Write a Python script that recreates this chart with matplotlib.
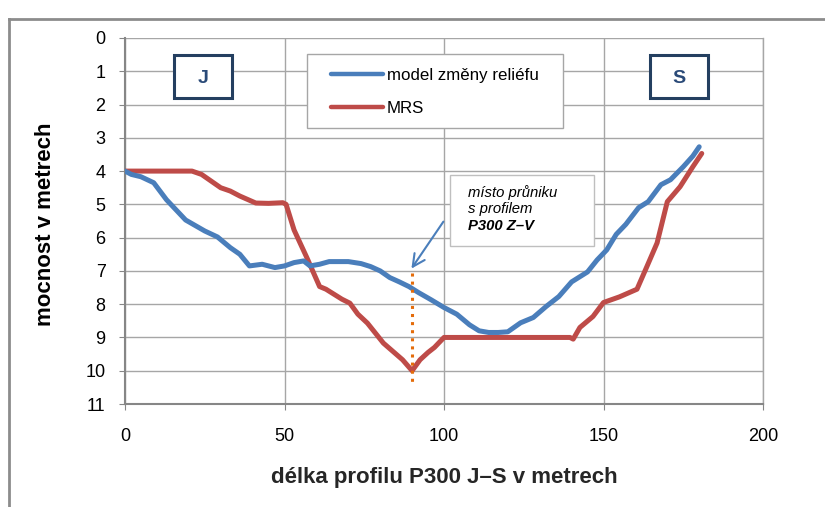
import matplotlib.pyplot as plt
from matplotlib.patches import Rectangle
from matplotlib.lines import Line2D

# data
blue_x = [0, 2, 5, 9, 13, 19, 25, 29, 33, 36, 39, 43, 47, 50, 53, 56, 58, 61, 64, 70,
          74, 77, 80, 83, 86, 89, 92, 96, 100, 104, 108, 111, 114, 117, 120, 124, 128,
          132, 136, 140, 145, 148, 151, 154, 157, 161, 164, 168, 171, 175, 178, 180]
blue_y = [4.0, 4.1, 4.17, 4.35, 4.86, 5.47, 5.8, 5.98, 6.3, 6.5, 6.85, 6.8, 6.9, 6.85,
          6.75, 6.7, 6.85, 6.8, 6.72, 6.72, 6.78, 6.87, 7.0, 7.2, 7.33, 7.47, 7.65, 7.87,
          8.1, 8.3, 8.62, 8.8, 8.85, 8.85, 8.83, 8.56, 8.4, 8.07, 7.77, 7.33, 7.03, 6.67,
          6.37, 5.9, 5.6, 5.1, 4.92, 4.41, 4.26, 3.87, 3.55, 3.27]

red_x = [0, 21, 24, 27, 30, 33, 36, 41, 45, 49.5, 50.5, 53, 57, 61, 63, 65, 68, 70.5,
         73, 76, 81, 87, 90, 92.5, 95, 97, 100, 101, 110, 120, 130, 139.5, 140.5, 142.6,
         146.7, 150, 155, 160.5, 163.6, 166.8, 170, 174, 178, 180.8]
red_y = [4.0, 4.0, 4.1, 4.3, 4.5, 4.6, 4.75, 4.96, 4.97, 4.95, 5.0, 5.77, 6.6, 7.47,
         7.55, 7.67, 7.85, 7.97, 8.3, 8.57, 9.17, 9.67, 10.0, 9.67, 9.45, 9.3, 9.0, 9.0,
         9.0, 9.0, 9.0, 9.0, 9.05, 8.7, 8.37, 7.95, 7.78, 7.55, 6.87, 6.16, 4.92, 4.47,
         3.87, 3.47]

blue_label = 'model změny reliéfu'
red_label = 'MRS'
cross_x = 90
x_ticks = [0, 50, 100, 150, 200]
y_ticks = list(range(0, 12))

plt.rcParams['font.family'] = ['Liberation Sans', 'DejaVu Sans']

W, H = 825, 507
fig = plt.figure(figsize=(8.25, 5.07), dpi=100)
ax = fig.add_axes([125 / W, 1 - 404 / H, 638 / W, 366 / H])


def ax_xy(px, py):
    # pixel position of the picture -> axes fraction
    return (px - 125) / 638, (404 - py) / 366


# outer chart border
fig.add_artist(Line2D([9 / W, 9 / W], [0, 1 - 19 / H], transform=fig.transFigure,
                      color='#8c8c8c', lw=2))
fig.add_artist(Line2D([9 / W, 1], [1 - 19 / H, 1 - 19 / H], transform=fig.transFigure,
                      color='#8c8c8c', lw=2))

ax.plot(blue_x, blue_y, color='#4a7ebb', lw=3.6, label=blue_label, zorder=4,
        solid_capstyle='round')
ax.plot(red_x, red_y, color='#be4b48', lw=3.6, label=red_label, zorder=3,
        solid_capstyle='round')

ax.set_xlim(0, 200)
ax.set_ylim(11, 0)
ax.set_xticks(x_ticks)
ax.set_yticks(y_ticks)
ax.grid(True, color='#a6a6a6', lw=1)
ax.set_axisbelow(True)
ax.spines['top'].set_visible(False)
ax.spines['right'].set_color('#a6a6a6')
ax.spines['right'].set_linewidth(1)
for s in ['left', 'bottom']:
    ax.spines[s].set_color('#868686')
    ax.spines[s].set_linewidth(1.5)
ax.tick_params(axis='both', colors='#868686', labelcolor='black', labelsize=13, length=4)
ax.tick_params(axis='x', pad=13)
ax.tick_params(axis='y', pad=10)

ax.set_xlabel('délka profilu P300 J–S v metrech', fontsize=16, fontweight='bold',
              color='#262626', va='center')
ax.xaxis.set_label_coords(0.5, ax_xy(0, 478)[1])
ax.set_ylabel('mocnost v metrech', fontsize=16, fontweight='bold', va='center')
ax.yaxis.set_label_coords(ax_xy(45, 0)[0], ax_xy(0, 224)[1])

# legend: frame drawn by hand, entries placed inside it
lx0, ly0 = ax_xy(307, 128)
lx1, ly1 = ax_xy(563, 54)
ax.add_patch(Rectangle((lx0, ly0), lx1 - lx0, ly1 - ly0, transform=ax.transAxes,
                       fc='white', ec='#a6a6a6', lw=1, zorder=5))
leg = ax.legend(loc='center left', bbox_to_anchor=ax_xy(331, 92), frameon=False,
                fontsize=12.2, handlelength=3.05, handletextpad=0.25, labelspacing=1.1,
                borderpad=0, borderaxespad=0)
leg.set_zorder(7)
for h in leg.legend_handles:
    h.set_linewidth(3.2)

# J and S boxes
for lbl, x0, x1 in [('J', 174, 232), ('S', 650, 708)]:
    bx0, by0 = ax_xy(x0, 98)
    bx1, by1 = ax_xy(x1, 55)
    ax.add_patch(Rectangle((bx0, by0), bx1 - bx0, by1 - by0, transform=ax.transAxes,
                           fc='white', ec='#243f60', lw=2.2, zorder=6))
    ax.text((bx0 + bx1) / 2, ax_xy(0, 79)[1], lbl, transform=ax.transAxes,
            ha='center', va='center', fontsize=14, fontweight='bold', color='#2a4a78',
            zorder=7)

# annotation box and arrow
ax.add_patch(Rectangle((101.9, 4.12), 45.1, 2.13, fc='white', ec='#bfbfbf', lw=1, zorder=5))
ax.text(107.5, 4.78, 'místo průniku', fontsize=10.7, style='italic', va='baseline', zorder=6)
ax.text(107.5, 5.26, 's profilem', fontsize=10.7, style='italic', va='baseline', zorder=6)
ax.text(107.5, 5.77, 'P300 Z–V', fontsize=10.7, style='italic', fontweight='bold',
        va='baseline', zorder=6)
ax.annotate('', xy=(89.3, 7.0), xytext=(100.3, 5.45),
            arrowprops=dict(arrowstyle='->', color='#4a7ebb', lw=1.5, mutation_scale=22),
            zorder=6)
ax.plot([cross_x, cross_x], [7.05, 10.35], linestyle=':', color='#e46c0a', lw=2.2,
        zorder=5, clip_on=False)

plt.savefig('out.png', dpi=100)
plt.close()
